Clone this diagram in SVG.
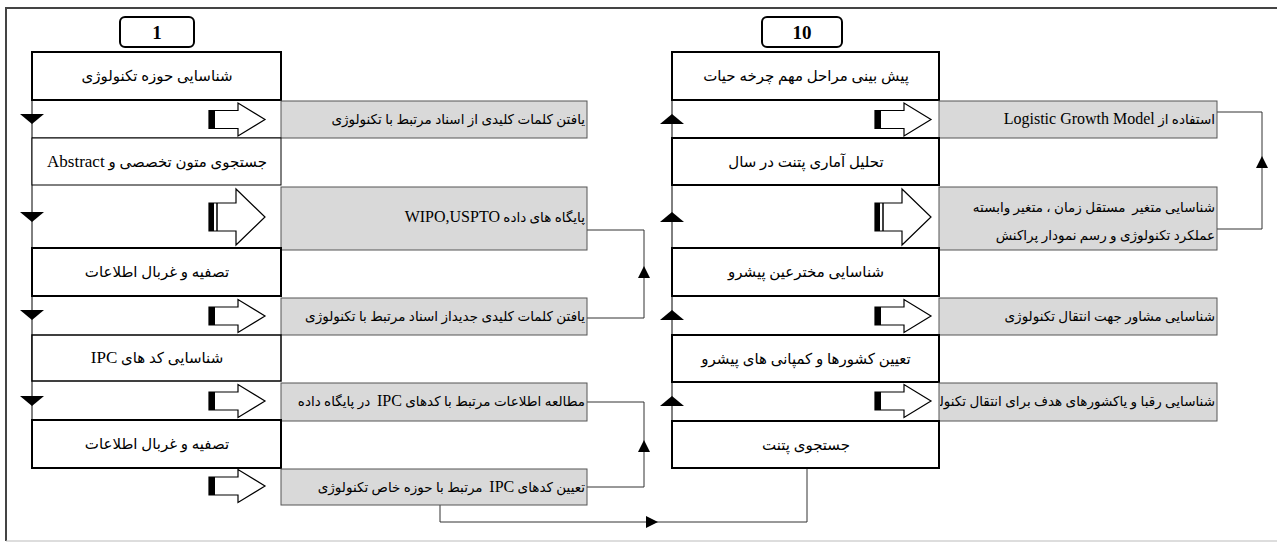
<svg xmlns="http://www.w3.org/2000/svg" xmlns:xlink="http://www.w3.org/1999/xlink" width="1277" height="546" viewBox="0 0 1277 546">
<style>
.main{fill:#fff;stroke:#000;stroke-width:2}
.thin{fill:#fff;stroke:#000;stroke-width:1}
.gray{fill:#d9d9d9;stroke:#555;stroke-width:1}
.num{fill:#fff;stroke:#000;stroke-width:2}
.t{font-family:"Liberation Serif","DejaVu Sans",serif;font-size:15px;fill:#000}
.g{font-family:"Liberation Serif","DejaVu Sans",serif;font-size:13.5px;fill:#000;white-space:pre}
.lt{font-size:17px}
.lg{font-size:16px}
.n{font-family:"Liberation Serif",serif;font-size:19px;font-weight:bold;fill:#000}
.con{fill:none;stroke:#333;stroke-width:1}
.spine{fill:none;stroke:#000;stroke-width:1}
.arr{fill:#fff;stroke:#000;stroke-width:1.2}
</style>
<defs>
<g id="sarrow">
<path class="arr" d="M0,-9 H29 V-16.5 L56,0 L29,16.5 V9 H0 Z"/>
<rect x="0" y="-9" width="6" height="18" fill="#000"/>
</g>
<g id="larrow">
<path class="arr" d="M0,-14 H27 V-28 L56,0 L27,28 V14 H0 Z"/>
<rect x="0" y="-14" width="5" height="28" fill="#000"/>
<line x1="8" y1="-14" x2="8" y2="14" stroke="#000" stroke-width="1.5"/>
</g>
<polygon id="tdown" points="-12,-5 12,-5 0,5" fill="#000"/>
<polygon id="tup" points="-12,5 12,5 0,-5" fill="#000"/>
<polygon id="cup" points="-6,6 6,6 0,-6" fill="#000"/>
<polygon id="cright" points="-6,-6 -6,6 6,0" fill="#000"/>
<clipPath id="clipR4"><rect x="940" y="383" width="277" height="38"/></clipPath>
</defs>

<g id="frame">
<line x1="6" y1="8" x2="1277" y2="8" stroke="#444" stroke-width="2"/>
<line x1="6" y1="7" x2="6" y2="541" stroke="#444" stroke-width="2"/>
<line x1="6" y1="541" x2="1277" y2="541" stroke="#bbb" stroke-width="1"/>
</g>

<g id="connectors">
<line class="spine" x1="32" y1="100" x2="32" y2="420"/>
<line class="spine" x1="672" y1="100" x2="672" y2="421"/>
<line class="spine" x1="32" y1="138" x2="281" y2="138"/>
<use xlink:href="#tdown" x="32" y="119"/>
<use xlink:href="#tdown" x="32" y="217"/>
<use xlink:href="#tdown" x="32" y="315"/>
<use xlink:href="#tdown" x="32" y="401"/>
<use xlink:href="#tup" x="672" y="119"/>
<use xlink:href="#tup" x="672" y="217"/>
<use xlink:href="#tup" x="672" y="315"/>
<use xlink:href="#tup" x="672" y="401"/>
<polyline class="con" points="587,318 644,318 644,230 587,230"/>
<use xlink:href="#cup" x="644" y="272"/>
<polyline class="con" points="587,487 644,487 644,402 587,402"/>
<use xlink:href="#cup" x="644" y="446"/>
<polyline class="con" points="1217,229 1262,229 1262,112 1217,112"/>
<use xlink:href="#cup" x="1262" y="162"/>
<polyline class="con" points="440,505 440,522 807,522 807,468"/>
<use xlink:href="#cright" x="652" y="522"/>
</g>

<g id="n1"><rect class="num" x="120" y="17" width="74" height="30" rx="5"/><text class="n" x="157" y="39" text-anchor="middle">1</text></g>
<g id="n10"><rect class="num" x="762" y="17" width="80" height="30" rx="5"/><text class="n" x="802" y="39" text-anchor="middle">10</text></g>

<g id="L1"><rect class="main" x="32" y="52" width="249" height="48"/><text class="t" x="157" y="81" direction="rtl" text-anchor="middle">شناسایی حوزه تکنولوژی</text></g>
<g id="LA1"><use xlink:href="#sarrow" x="209" y="119.5"/></g>
<g id="LG1"><rect class="gray" x="281" y="101" width="306" height="37"/><text class="g" x="585" y="124" direction="rtl" text-anchor="start">یافتن کلمات کلیدی از اسناد مرتبط با تکنولوژی</text></g>

<g id="L2"><rect class="thin" x="32" y="138" width="249" height="47"/><text class="t" x="157" y="167" direction="rtl" text-anchor="middle">جستجوی متون تخصصی و <tspan class="lt">Abstract</tspan></text></g>
<g id="LA2"><use xlink:href="#larrow" x="209" y="217"/></g>
<g id="LG2"><rect class="gray" x="281" y="187" width="306" height="63"/><text class="g" x="585" y="222" direction="rtl" text-anchor="start">پایگاه های داده <tspan class="lg">WIPO,USPTO</tspan></text></g>

<g id="L3"><rect class="main" x="32" y="248" width="249" height="48"/><text class="t" x="157" y="277" direction="rtl" text-anchor="middle">تصفیه و غربال اطلاعات</text></g>
<g id="LA3"><use xlink:href="#sarrow" x="209" y="316"/></g>
<g id="LG3"><rect class="gray" x="281" y="298" width="306" height="37"/><text class="g" x="585" y="321" direction="rtl" text-anchor="start">یافتن کلمات کلیدی جدیداز اسناد مرتبط با تکنولوژی</text></g>

<g id="L4"><rect class="main" x="32" y="335" width="249" height="46" style="stroke-width:1.5"/><text class="t" x="157" y="363" direction="rtl" text-anchor="middle">شناسایی کد های <tspan class="lt">IPC</tspan></text></g>
<g id="LA4"><use xlink:href="#sarrow" x="209" y="401"/></g>
<g id="LG4"><rect class="gray" x="281" y="383" width="306" height="38"/><text class="g" x="585" y="406" direction="rtl" text-anchor="start">مطالعه اطلاعات مرتبط با کدهای <tspan class="lg">IPC</tspan>  در پایگاه داده</text></g>

<g id="L5"><rect class="main" x="32" y="420" width="249" height="48"/><text class="t" x="157" y="449" direction="rtl" text-anchor="middle">تصفیه و غربال اطلاعات</text></g>
<g id="LA5"><use xlink:href="#sarrow" x="209" y="486"/></g>
<g id="LG5"><rect class="gray" x="281" y="469" width="306" height="36"/><text class="g" x="585" y="492" direction="rtl" text-anchor="start">تعیین کدهای <tspan class="lg">IPC</tspan>  مرتبط با حوزه خاص تکنولوژی</text></g>

<g id="R1"><rect class="main" x="672" y="52" width="267" height="48"/><text class="t" x="806" y="81" direction="rtl" text-anchor="middle">پیش بینی مراحل مهم چرخه حیات</text></g>
<g id="RA1"><use xlink:href="#sarrow" x="875" y="119.5"/></g>
<g id="RG1"><rect class="gray" x="939" y="101" width="278" height="37"/><text class="g" x="1215" y="124" direction="rtl" text-anchor="start">استفاده از <tspan class="lg">Logistic Growth Model</tspan></text></g>

<g id="R2"><rect class="main" x="672" y="138" width="267" height="47"/><text class="t" x="806" y="167" direction="rtl" text-anchor="middle">تحلیل آماری پتنت در سال</text></g>
<g id="RA2"><use xlink:href="#larrow" x="875" y="217"/></g>
<g id="RG2"><rect class="gray" x="939" y="187" width="278" height="63"/><text class="g" x="1215" y="212" direction="rtl" text-anchor="start">شناسایی متغیر  مستقل زمان ، متغیر وابسته</text><text class="g" x="1215" y="240" direction="rtl" text-anchor="start">عملکرد تکنولوژی و رسم نمودار پراکنش</text></g>

<g id="R3"><rect class="main" x="672" y="248" width="267" height="48"/><text class="t" x="806" y="277" direction="rtl" text-anchor="middle">شناسایی مخترعین پیشرو</text></g>
<g id="RA3"><use xlink:href="#sarrow" x="875" y="316"/></g>
<g id="RG3"><rect class="gray" x="939" y="298" width="278" height="37"/><text class="g" x="1215" y="321" direction="rtl" text-anchor="start">شناسایی مشاور جهت انتقال تکنولوژی</text></g>

<g id="R4"><rect class="main" x="672" y="335" width="267" height="47"/><text class="t" x="806" y="364" direction="rtl" text-anchor="middle">تعیین کشورها و کمپانی های پیشرو</text></g>
<g id="RA4"><use xlink:href="#sarrow" x="875" y="401"/></g>
<g id="RG4"><rect class="gray" x="939" y="383" width="278" height="38"/><text class="g" x="1215" y="406" direction="rtl" text-anchor="start" clip-path="url(#clipR4)">شناسایی رقبا و یاکشورهای هدف برای انتقال تکنولوژی</text></g>

<g id="R5"><rect class="main" x="672" y="421" width="267" height="47"/><text class="t" x="806" y="450" direction="rtl" text-anchor="middle">جستجوی پتنت</text></g>
</svg>
